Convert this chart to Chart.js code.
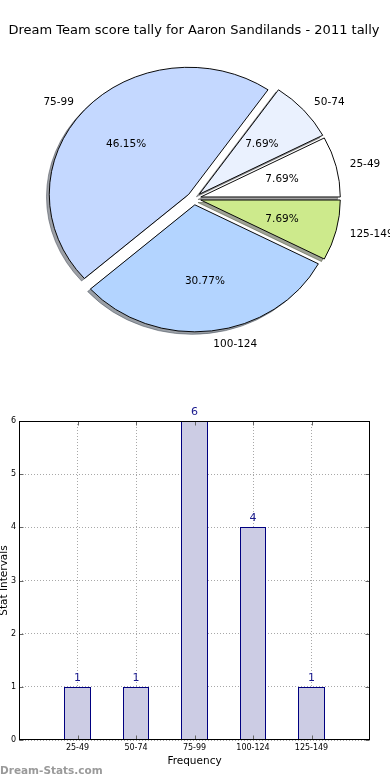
<!DOCTYPE html>
<html><head><meta charset="utf-8">
<script src="https://cdn.jsdelivr.net/npm/chart.js@4.4.1/dist/chart.umd.min.js"></script>
<style>
html,body{margin:0;padding:0;background:#fff;}
body{width:390px;height:780px;position:relative;overflow:hidden;font-family:"DejaVu Sans";}
#pie{position:absolute;left:0;top:0;}
#bar{position:absolute;left:0;top:380px;}
#wm{position:absolute;left:0;top:763px;font:bold 10.5px/14px "DejaVu Sans";color:#9a9a9a;white-space:nowrap;}
</style></head><body>
<canvas id="pie" width="390" height="380"></canvas>
<canvas id="bar" width="390" height="400"></canvas>
<div id="wm">Dream-Stats.com</div>
<script>
const chartTitle = 'Dream Team score tally for Aaron Sandilands - 2011 tally';
const categories = ['25-49', '50-74', '75-99', '100-124', '125-149'];
const counts = [1, 1, 6, 4, 1];
const pieColors = ['#ffffff', '#eaf1fe', '#c4d8ff', '#b3d4ff', '#cdea8c'];
const yTicks = [0, 1, 2, 3, 4, 5, 6];
const xAxisTitle = 'Frequency';
const yAxisTitle = 'Stat Intervals';

const FONT = 'DejaVu Sans';
const SY = 127 / 139.5;     // vertical squash of the pie (non-equal axes)
const EXPLODE = 0.05;

function shadowOf(hex) {
  const n = parseInt(hex.slice(1), 16);
  const r = (n >> 16) & 255, g = (n >> 8) & 255, b = n & 255;
  return `rgba(${Math.round(r*0.3)},${Math.round(g*0.3)},${Math.round(b*0.3)},0.5)`;
}

const pieOrder = categories.map((c, i) => i).reverse();

const piePlugin = {
  id: 'ellipsePie',
  beforeDatasetDraw(chart, args) {
    const ctx = chart.ctx;
    const arcs = args.meta.data;
    if (!arcs.length) return;
    const cx = arcs[0].x, cy = arcs[0].y, R = arcs[0].outerRadius;
    const pass = (shadow) => {
      arcs.forEach(a => {
        const m = (a.startAngle + a.endAngle) / 2;
        ctx.save();
        if (shadow) ctx.translate(-2.8, 2.5);
        ctx.translate(cx, cy); ctx.scale(1, SY); ctx.translate(-cx, -cy);
        ctx.translate(Math.cos(m) * EXPLODE * R, Math.sin(m) * EXPLODE * R);
        if (shadow) {
          const o = a.options;
          const sc = shadowOf(o.backgroundColor);
          a.options = Object.assign({}, o, {backgroundColor: sc, borderColor: sc});
          a.draw(ctx);
          a.options = o;
        } else {
          a.draw(ctx);
        }
        ctx.restore();
      });
    };
    pass(true);
    pass(false);
    return false;
  },
  afterDatasetsDraw(chart) {
    const ctx = chart.ctx;
    const arcs = chart.getDatasetMeta(0).data;
    const vals = chart.data.datasets[0].data;
    const total = vals.reduce((s, v) => s + v, 0);
    ctx.save();
    ctx.font = `10.5px "${FONT}"`;
    ctx.fillStyle = '#000';
    ctx.textBaseline = 'middle';
    arcs.forEach((a, k) => {
      const cx = a.x, cy = a.y, R = a.outerRadius;
      const m = (a.startAngle + a.endAngle) / 2;
      const c = Math.cos(m), s = Math.sin(m);
      const ex = cx + c * EXPLODE * R, ey = cy + s * EXPLODE * R * SY;
      ctx.textAlign = c >= 0 ? 'left' : 'right';
      ctx.fillText(chart.data.labels[k], ex + 1.1 * R * c, ey + 1.1 * R * s * SY + 1);
      ctx.textAlign = 'center';
      ctx.fillText((vals[k] / total * 100).toFixed(2) + '%', ex + 0.6 * R * c, ey + 0.6 * R * s * SY + 1);
    });
    ctx.restore();
  }
};

new Chart(document.getElementById('pie'), {
  type: 'pie',
  data: {
    labels: pieOrder.map(i => categories[i]),
    datasets: [{
      data: pieOrder.map(i => counts[i]),
      backgroundColor: pieOrder.map(i => pieColors[i]),
      borderColor: '#000',
      borderWidth: 1,
      borderAlign: 'center',
      borderJoinStyle: 'miter'
    }]
  },
  options: {
    responsive: false,
    animation: false,
    events: [],
    rotation: 90,
    radius: 139.5,
    layout: {padding: {left: 0, right: 2, top: 0, bottom: 21.6}},
    plugins: {
      legend: {display: false},
      tooltip: {enabled: false},
      title: {
        display: true, text: chartTitle, color: '#000',
        font: {family: FONT, size: 13, weight: 'normal'},
        padding: {top: 23, bottom: 0}
      }
    }
  },
  plugins: [piePlugin]
});

const barPlugin = {
  id: 'barDecor',
  afterDatasetsUpdate(chart) {
    // snap bar edges to whole pixels (like the original renderer)
    chart.getDatasetMeta(0).data.forEach(b => {
      const l = Math.round(b.x - b.width / 2), r = Math.round(b.x + b.width / 2);
      b.x = (l + r) / 2; b.width = r - l;
      b.y = Math.round(b.y); b.base = Math.round(b.base);
    });
  },
  afterDatasetsDraw(chart) {
    const ctx = chart.ctx;
    const meta = chart.getDatasetMeta(0);
    ctx.save();
    ctx.font = `11px "${FONT}"`;
    ctx.fillStyle = '#1a1a8e';
    ctx.textAlign = 'center';
    ctx.textBaseline = 'middle';
    meta.data.forEach((b, i) => {
      ctx.fillText(String(counts[i]), b.x, b.y - 9);
    });
    ctx.restore();
  },
  afterDraw(chart) {
    const ctx = chart.ctx;
    const a = chart.chartArea;
    const L = Math.round(a.left) + 0.5, R = Math.round(a.right) - 0.5;
    const T = Math.round(a.top) + 0.5, B = Math.round(a.bottom) - 0.5;
    ctx.save();
    ctx.strokeStyle = '#666';
    ctx.lineWidth = 1;
    ctx.beginPath();
    chart.scales.y.ticks.forEach(t => {
      const y = Math.round(chart.scales.y.getPixelForValue(t.value)) + 0.5;
      ctx.moveTo(L, y); ctx.lineTo(L + 4, y);
      ctx.moveTo(R, y); ctx.lineTo(R - 4, y);
    });
    chart.scales.x.ticks.forEach(t => {
      const x = Math.round(chart.scales.x.getPixelForValue(t.value)) + 0.5;
      ctx.moveTo(x, B); ctx.lineTo(x, B - 4);
      ctx.moveTo(x, T); ctx.lineTo(x, T + 4);
    });
    ctx.stroke();
    ctx.strokeStyle = '#000';
    ctx.strokeRect(L, T, R - L, B - T);
    ctx.restore();
  }
};

new Chart(document.getElementById('bar'), {
  type: 'bar',
  data: {
    datasets: [{
      data: categories.map((c, i) => ({x: i, y: counts[i]})),
      backgroundColor: '#ccccE4',
      borderColor: '#000080',
      borderWidth: 1,
      borderSkipped: false,
      inflateAmount: 0,
      barPercentage: 0.45,
      categoryPercentage: 1
    }]
  },
  options: {
    responsive: false,
    animation: false,
    events: [],
    layout: {padding: {top: 41, right: 20, left: 0, bottom: 0}},
    plugins: {legend: {display: false}, tooltip: {enabled: false}},
    scales: {
      x: {
        type: 'linear', min: -1, max: 5, offset: false, z: 1,
        afterBuildTicks: s => { s.ticks = categories.map((c, i) => ({value: i})); },
        afterFit: s => { s.height = 40; },
        ticks: {
          callback: v => categories[v], color: '#000', padding: 3,
          font: {family: FONT, size: 8}, maxRotation: 0, autoSkip: false
        },
        grid: {color: '#a8a8a8', lineWidth: 1, drawTicks: false, offset: false},
        border: {display: false, dash: [1, 2]},
        title: {
          display: true, text: xAxisTitle, color: '#000',
          font: {family: FONT, size: 10.5}, padding: {top: 0, bottom: 12.7}
        }
      },
      y: {
        min: 0, max: 6, z: 1,
        afterBuildTicks: s => { s.ticks = yTicks.map(v => ({value: v})); },
        afterFit: s => { s.width = 19; },
        ticks: {color: '#000', padding: 3, font: {family: FONT, size: 8}},
        grid: {color: '#a8a8a8', lineWidth: 1, drawTicks: false},
        border: {display: false, dash: [1, 2]},
        title: {
          display: true, text: yAxisTitle, color: '#000',
          font: {family: FONT, size: 10.5}, padding: {top: -2.3, bottom: 0}
        }
      }
    }
  },
  plugins: [barPlugin]
});
</script>
</body></html>
